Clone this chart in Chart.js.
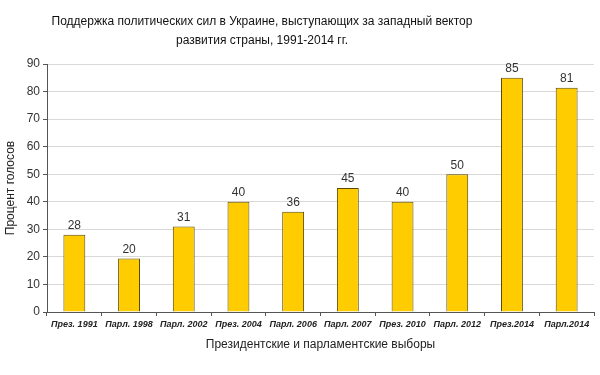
<!DOCTYPE html>
<html>
<head>
<meta charset="utf-8">
<script src="https://cdn.jsdelivr.net/npm/chart.js@4"></script>
<style>
    body { margin: 0; background: #fff; }
</style>
</head>
<body>
<canvas id="electionChart" width="600" height="375"></canvas>
<script>
// election categories and support values (%)
const elections = ['През. 1991', 'Парл. 1998', 'Парл. 2002', 'През. 2004', 'Парл. 2006',
    'Парл. 2007', 'През. 2010', 'Парл. 2012', 'През.2014', 'Парл.2014'];
const support = [28, 19.4, 31, 40, 36.4, 45, 40, 50, 85, 81.4];
const supportLabels = ['28', '20', '31', '40', '36', '45', '40', '50', '85', '81'];
const titleLines = ['Поддержка политических сил в Украине, выступающих за западный вектор',
    'развития страны, 1991-2014 гг.'];

const FONT = '"Liberation Sans", Arial, sans-serif';

// draws the two-line title and the value over each bar
const textPlugin = {
    id: 'textPlugin',
    afterDraw(chart) {
        const ctx = chart.ctx;
        ctx.save();
        ctx.fillStyle = '#111';
        ctx.font = '12px ' + FONT;
        ctx.textAlign = 'center';
        ctx.textBaseline = 'middle';
        ctx.fillText(titleLines[0], 262, 22);
        ctx.fillText(titleLines[1], 262, 41);

        ctx.font = '12px ' + FONT;
        ctx.fillStyle = '#333';
        ctx.textBaseline = 'bottom';
        const meta = chart.getDatasetMeta(0);
        meta.data.forEach((bar, i) => {
            ctx.fillText(supportLabels[i], bar.x, bar.y - 3);
        });
        ctx.restore();
    }
};

new Chart(document.getElementById('electionChart'), {
    type: 'bar',
    data: {
        labels: elections,
        datasets: [{
            data: support,
            backgroundColor: '#FFCC00',
            borderColor: '#5c4a00',
            borderWidth: 1,
            barPercentage: 0.4,
            categoryPercentage: 1.0
        }]
    },
    options: {
        responsive: false,
        animation: false,
        devicePixelRatio: 1,
        layout: { padding: { top: 64, right: 6, left: 0, bottom: 0 } },
        plugins: {
            legend: { display: false },
            title: { display: false },
            tooltip: { enabled: false }
        },
        scales: {
            x: {
                grid: { drawOnChartArea: false, offset: true, tickLength: 4, tickColor: '#555' },
                border: { color: '#555' },
                ticks: {
                    color: '#222',
                    maxRotation: 0,
                    autoSkip: false,
                    font: { family: FONT, size: 9, weight: 'bold', style: 'italic' },
                    padding: 3
                },
                title: {
                    display: true,
                    text: 'Президентские и парламентские выборы',
                    color: '#222',
                    font: { family: FONT, size: 12 },
                    padding: { top: 6, bottom: 23 }
                },
                afterFit(scale) { scale.height = 63; }
            },
            y: {
                min: 0,
                max: 90,
                ticks: {
                    stepSize: 10,
                    color: '#333',
                    font: { family: FONT, size: 12 },
                    padding: 3
                },
                grid: { color: '#d9d9d9', tickLength: 4, tickColor: '#555' },
                border: { color: '#555' },
                title: {
                    display: true,
                    text: 'Процент голосов',
                    color: '#222',
                    font: { family: FONT, size: 12 },
                    padding: { top: 3, bottom: 0 }
                },
                afterFit(scale) { scale.width = 47; }
            }
        }
    },
    plugins: [textPlugin]
});
</script>
</body>
</html>
